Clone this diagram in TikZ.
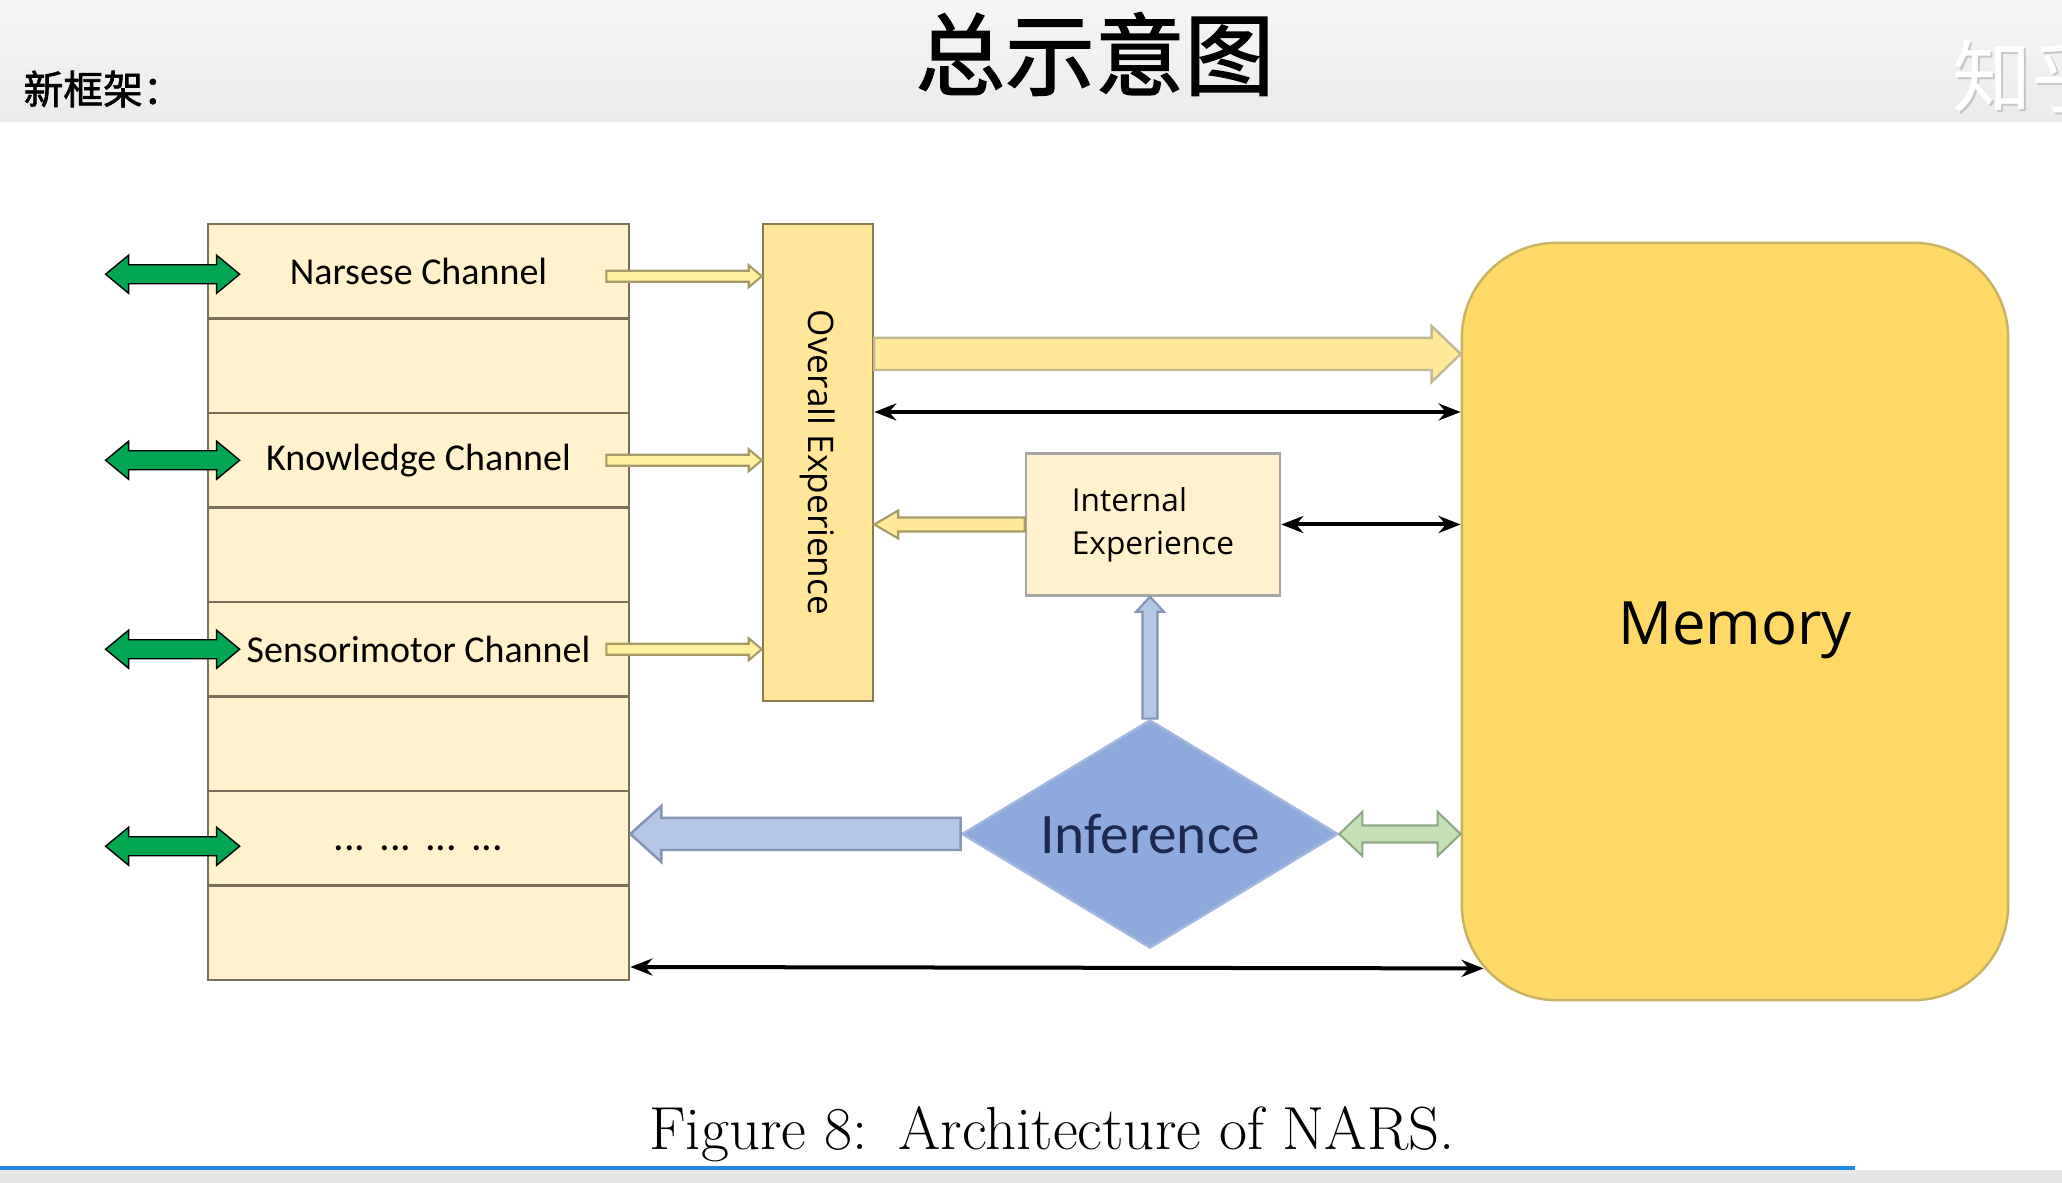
\documentclass[tikz,border=0pt]{standalone}
\usepackage{fontspec}
\newfontfamily\calib{Carlito}
\newfontfamily\osans{Open Sans}
\newfontfamily\cjk{Noto Sans CJK SC}
\newfontfamily\cjkbold[FakeBold=1.6]{Noto Sans CJK SC}
\usetikzlibrary{calc,shapes.geometric,arrows.meta}

\definecolor{hdtop}{HTML}{F5F5F5}
\definecolor{hdbot}{HTML}{EBEBEB}
\definecolor{botgray}{HTML}{E6E6E6}
\definecolor{barblue}{HTML}{1E88E5}
\definecolor{cream}{HTML}{FFF2CC}
\definecolor{rowline}{HTML}{7A705A}
\definecolor{ovfill}{HTML}{FFE699}
\definecolor{ovline}{HTML}{8A7A52}
\definecolor{memfill}{HTML}{FFD966}
\definecolor{memline}{HTML}{C9B263}
\definecolor{inffill}{HTML}{8EA9DB}
\definecolor{infline}{HTML}{A3B8E0}
\definecolor{inftext}{HTML}{1B2A4E}
\definecolor{ylfill}{HTML}{FFF0A0}
\definecolor{ylline}{HTML}{A89A66}
\definecolor{blfill}{HTML}{B4C7E7}
\definecolor{blline}{HTML}{8595B3}
\definecolor{chgreen}{HTML}{00A651}
\definecolor{lgfill}{HTML}{C5E0B4}
\definecolor{lgline}{HTML}{8FA884}

\newcommand\rowdots{\raisebox{-0.1cm}[\height][\depth]{\fontsize{12pt}{12pt}\selectfont ...\hspace{0.14cm}...\hspace{0.14cm}...\hspace{0.14cm}...}}

\tikzset{
  % block arrow: shaft half width, head half width, head length
  sblock/.style n args={3}{to path={
      -- ($(\tikztostart)!#1!90:(\tikztotarget)$)
      -- ($(\tikztotarget)!#3!(\tikztostart)!#1!-90:(\tikztostart)$)
      -- ($(\tikztotarget)!#3!(\tikztostart)!#2!-90:(\tikztostart)$)
      -- (\tikztotarget)
      -- ($(\tikztotarget)!#3!(\tikztostart)!#2!90:(\tikztostart)$)
      -- ($(\tikztotarget)!#3!(\tikztostart)!#1!90:(\tikztostart)$)
      -- ($(\tikztostart)!#1!-90:(\tikztotarget)$)
      -- cycle}},
  dblock/.style n args={3}{to path={
      -- ($(\tikztostart)!#3!(\tikztotarget)!#2!90:(\tikztotarget)$)
      -- ($(\tikztostart)!#3!(\tikztotarget)!#1!90:(\tikztotarget)$)
      -- ($(\tikztotarget)!#3!(\tikztostart)!#1!-90:(\tikztostart)$)
      -- ($(\tikztotarget)!#3!(\tikztostart)!#2!-90:(\tikztostart)$)
      -- (\tikztotarget)
      -- ($(\tikztotarget)!#3!(\tikztostart)!#2!90:(\tikztostart)$)
      -- ($(\tikztotarget)!#3!(\tikztostart)!#1!90:(\tikztostart)$)
      -- ($(\tikztostart)!#3!(\tikztotarget)!#1!-90:(\tikztotarget)$)
      -- ($(\tikztostart)!#3!(\tikztotarget)!#2!-90:(\tikztotarget)$)
      -- cycle}},
  row/.style={draw=rowline, fill=cream, line width=0.7pt, minimum width=4.21cm,
    minimum height=0.945cm, inner sep=0pt, font=\calib\fontsize{10.8pt}{12pt}\selectfont},
  ovbox/.style={draw=ovline, fill=ovfill, line width=0.7pt, minimum width=1.10cm,
    minimum height=4.77cm, inner sep=0pt, font=\osans\fontsize{10pt}{12pt}\selectfont},
  iebox/.style={draw=black!35, fill=cream, line width=0.7pt, minimum width=2.54cm,
    minimum height=1.42cm, align=left, font=\osans\fontsize{9pt}{12.2pt}\selectfont},
  membox/.style={draw=memline, fill=memfill, line width=0.7pt, rounded corners=0.95cm,
    minimum width=5.46cm, minimum height=7.57cm, font=\osans\fontsize{17pt}{20pt}\selectfont},
  infbox/.style={diamond, draw=infline, fill=inffill, line width=0.7pt, minimum width=3.76cm,
    minimum height=2.28cm, inner sep=0pt, text=inftext, font=\calib\fontsize{16.3pt}{18pt}\selectfont},
  garrow/.style={dblock={0.095cm}{0.19cm}{0.23cm}, fill=chgreen},
  yarrow/.style={sblock={0.055cm}{0.11cm}{0.13cm}, fill=ylfill, draw=ylline, line width=0.6pt},
  bigarrow/.style={sblock={0.16cm}{0.28cm}{0.29cm}, fill=ovfill!60!ylfill, draw=ylline!70, line width=0.7pt},
  iearrow/.style={sblock={0.07cm}{0.14cm}{0.24cm}, fill=ovfill!60!ylfill, draw=ylline, line width=0.6pt},
  uparrow/.style={sblock={0.075cm}{0.14cm}{0.15cm}, fill=blfill, draw=blline, line width=0.6pt},
  larrow/.style={sblock={0.16cm}{0.28cm}{0.31cm}, fill=blfill, draw=blline, line width=0.7pt},
  lgarrow/.style={dblock={0.085cm}{0.22cm}{0.23cm}, fill=lgfill, draw=lgline, line width=0.6pt},
  barrow/.style={<->, >={Stealth[length=0.22cm,width=0.17cm]}, line width=0.04cm},
}

\begin{document}
\begin{tikzpicture}[x=0.01cm,y=-0.01cm]
	\useasboundingbox (0,0) rectangle (2062,1183);
	\fill[white] (0,0) rectangle (2062,1183);
	\shade[top color=hdtop,bottom color=hdbot] (0,0) rectangle (2062,122);
	\fill[botgray] (0,1170) rectangle (2062,1183);
	\fill[barblue] (0,1166) rectangle (1855,1170);
	% header
	\node[anchor=west,inner sep=0pt,font=\cjkbold\fontsize{11.3pt}{11pt}\selectfont] (sub) at (23,89) {新框架：};
	\node[inner sep=0pt,font=\cjkbold\fontsize{25.5pt}{26pt}\selectfont] (title) at (1095,54) {总示意图};
	\node[anchor=west,inner sep=0pt,text=black!22,font=\cjk\fontsize{22.5pt}{23pt}\selectfont] (wms) at (1954,78) {知乎};
	\node[anchor=west,inner sep=0pt,text=white,font=\cjk\fontsize{22.5pt}{23pt}\selectfont] (wm) at (1952,76) {知乎};
	% channels
	\foreach \i/\t in {1/Narsese Channel,2/,3/Knowledge Channel,4/,5/Sensorimotor Channel,6/,7/\rowdots,8/}
		{\node[row] (r\i) at (418.5,{224+94.5*(\i-0.5)}) {\t};}
	\node[ovbox] (ov) at (818,462.5) {\rotatebox{-90}{Overall Experience}};
	\node[iebox] (ie) at (1153,524.5) {Internal\\Experience};
	\node[membox] (mem) at (1735,621.5) {\raisebox{-0.09cm}[\height][\depth]{Memory}};
	\node[infbox] (inf) at (1150,834) {\makebox[0pt]{Inference}};
	% arrows
	\foreach \i/\dy in {1/-0.03cm,3/0cm,5/0cm,7/-0.08cm}{
		\coordinate (gl\i) at ([xshift=-1.01cm,yshift=\dy]r\i.west);
		\coordinate (gr\i) at ([xshift=0.33cm,yshift=\dy]r\i.west);
		\draw[garrow] (gl\i) to (gr\i);}
	\foreach \i/\dy in {1/-0.05cm,3/0cm,5/0cm}{
		\coordinate (ys\i) at ([xshift=-0.24cm,yshift=\dy]r\i.east);
		\coordinate (ye\i) at (ov.west |- ys\i);
		\draw[yarrow] (ys\i) to (ye\i);}
	\coordinate (bo1) at (ov.east |- 0,354);
	\coordinate (bm1) at (mem.west |- 0,354);
	\draw[bigarrow] (bo1) to (bm1);
	\coordinate (bo2) at (ov.east |- 0,412);
	\coordinate (bm2) at (mem.west |- 0,412);
	\draw[barrow] (bo2) -- (bm2);
	\coordinate (io) at (ov.east |- ie.west);
	\draw[iearrow] (ie.west) to (io);
	\coordinate (bm3) at (mem.west |- ie.east);
	\draw[barrow] (ie.east) -- (bm3);
	\coordinate (iu) at (inf.north |- ie.south);
	\draw[uparrow] (inf.north) to (iu);
	\coordinate (il) at (r7.east |- inf.west);
	\draw[larrow] (inf.west) to (il);
	\coordinate (ir) at (mem.west |- inf.east);
	\draw[lgarrow] (inf.east) to (ir);
	\coordinate (bs) at (r8.east |- 0,967);
	\coordinate (be) at ([shift={(0.23cm,0.33cm)}]mem.south west);
	\draw[barrow] (bs) -- (be);
	% caption
	\node (cap) at (1052,1134) {\fontsize{17.3pt}{17pt}\selectfont Figure 8:\enspace Architecture of NARS.};
\end{tikzpicture}
\end{document}
